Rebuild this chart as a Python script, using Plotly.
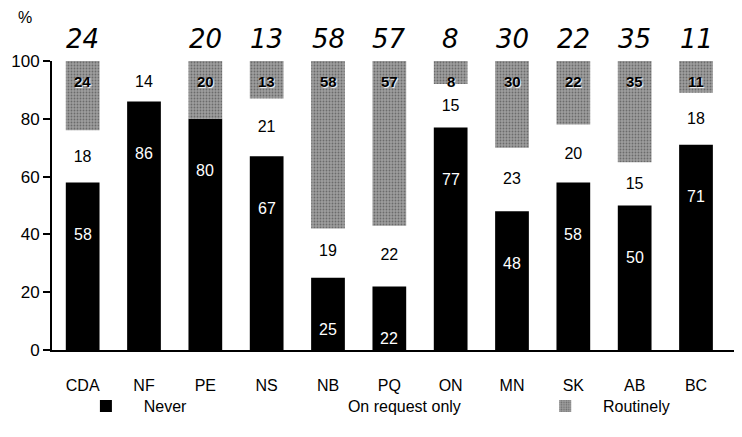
import plotly.graph_objects as go

provinces = ["CDA", "NF", "PE", "NS", "NB", "PQ", "ON", "MN", "SK", "AB", "BC"]
never = [58, 86, 80, 67, 25, 22, 77, 48, 58, 50, 71]
on_request = [18, 14, None, 21, 19, 22, 15, 23, 20, 15, 18]
routinely = [24, None, 20, 13, 58, 57, 8, 30, 22, 35, 11]
handwritten = ["24", "", "20", "13", "58", "57", "8", "30", "22", "35", "11"]
y_ticks = [0, 20, 40, 60, 80, 100]

FONT = "Liberation Sans, Arial, sans-serif"
NB = "\u00a0"

fig = go.Figure()

fig.add_trace(go.Bar(
    x=provinces, y=never, base=0, name=NB * 4 + "Never",
    marker=dict(color="black", line=dict(width=0)),
    width=0.55, legend="legend",
))

fig.add_trace(go.Bar(
    x=provinces, y=on_request, base=never, name="On request only",
    marker=dict(color="rgba(255,255,255,0)", line=dict(width=0)),
    width=0.55,
    text=[str(v) if v else "" for v in on_request],
    textposition="inside", insidetextanchor="middle", constraintext="none",
    textfont=dict(color="black", size=16, family=FONT),
    legend="legend",
))

routine_base = [100 - r if r is not None else None for r in routinely]
fig.add_trace(go.Bar(
    x=provinces, y=routinely, base=routine_base, name=NB * 4 + "Routinely",
    marker=dict(color="#969696", line=dict(width=0),
                pattern=dict(shape=".", fgcolor="#383838", bgcolor="#9e9e9e", size=3, solidity=0.3)),
    width=0.55, legend="legend2",
))

# white labels inside the black bars
for p, v in zip(provinces, never):
    fig.add_annotation(x=p, y=v - 18, text=str(v), showarrow=False,
                       font=dict(color="white", size=16, family=FONT))

# labels near the top of the grey bars
for p, r in zip(provinces, routinely):
    if r:
        fig.add_annotation(x=p, y=100 - 7, text=str(r), showarrow=False,
                           font=dict(color="black", size=15, family=FONT, weight="bold",
                                     shadow="1px 1px 1px white"))

# handwritten numbers above the bars
for p, h in zip(provinces, handwritten):
    if h:
        fig.add_annotation(x=p, y=1.135, yref="paper", text=h, showarrow=False,
                           font=dict(color="black", size=26, family="DejaVu Sans",
                                     style="italic"))

fig.add_annotation(x=-0.039, xref="paper", y=1.149, yref="paper", text="%",
                   showarrow=False, xanchor="center", yanchor="middle",
                   font=dict(color="black", size=16, family=FONT))

fig.update_layout(
    width=742, height=437,
    barmode="overlay",
    margin=dict(l=44, r=8, t=53, b=95, autoexpand=False),
    plot_bgcolor="white", paper_bgcolor="white",
    font=dict(family=FONT, color="black", size=16),
    showlegend=True,
    legend=dict(orientation="h", xref="container", yref="container",
                x=0.105, y=0.089, xanchor="left", yanchor="middle",
                entrywidth=177, entrywidthmode="pixels", bgcolor="rgba(0,0,0,0)",
                font=dict(size=16, family=FONT), traceorder="normal"),
    legend2=dict(orientation="h", xref="container", yref="container",
                 x=0.724, y=0.089, xanchor="left", yanchor="middle",
                 bgcolor="rgba(0,0,0,0)",
                 font=dict(size=16, family=FONT)),
)

fig.update_xaxes(range=[-0.5, 10.75], showline=True, linecolor="black", linewidth=2,
                 ticks="", showgrid=False, ticklabelstandoff=20, automargin=False,
                 tickfont=dict(size=16, family=FONT))
fig.update_yaxes(range=[0, 100], tickvals=y_ticks, showline=True, linecolor="black",
                 linewidth=2, ticks="outside", ticklen=7, tickwidth=2, tickcolor="black",
                 showgrid=False, zeroline=False, automargin=False,
                 tickfont=dict(size=17, family=FONT))

fig.write_html("out.html")
